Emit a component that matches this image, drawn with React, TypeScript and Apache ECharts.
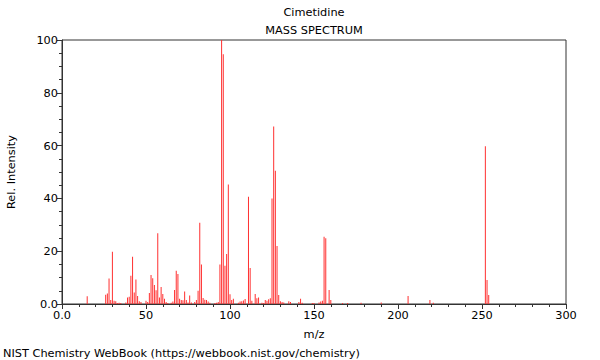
import React, { useEffect, useRef } from "react";
import * as echarts from "echarts";

const chartTitle = "Cimetidine";
const chartSubtitle = "MASS SPECTRUM";
const xAxisName = "m/z";
const yAxisName = "Rel. Intensity";
const footer = "NIST Chemistry WebBook (https://webbook.nist.gov/chemistry)";

const mzValues = [
  15, 26, 27, 28, 29, 30, 31, 32, 33, 34, 35, 38, 39, 40, 41, 42, 43, 44, 45, 46, 47,
  50, 51, 52, 53, 54, 55, 56, 57, 58, 59, 60, 61, 62, 63, 65, 66, 67, 68, 69, 70, 71,
  72, 73, 74, 75, 76, 77, 79, 80, 81, 82, 83, 84, 85, 86, 87, 88, 91, 92, 93, 94, 95,
  96, 97, 98, 99, 100, 101, 102, 105, 106, 107, 108, 109, 111, 112, 113, 115, 116, 117,
  119, 120, 121, 122, 123, 124, 125, 126, 127, 128, 129, 130, 131, 132, 135, 136, 141,
  142, 143, 149, 150, 153, 154, 155, 156, 157, 159, 160, 167, 170, 178, 190, 206, 219,
  221, 252, 253, 254,
];

const relIntensity = [
  2.9, 3.5, 4.0, 9.7, 1.5, 19.8, 1.2, 1.0, 0.4, 0.5, 0.4, 0.6, 2.5, 2.7, 10.7, 17.9, 4.4, 9.3, 3.0, 1.0, 0.8,
  1.2, 0.8, 4.2, 11.0, 9.8, 7.2, 5.2, 26.8, 2.5, 6.4, 3.8, 2.0, 0.8, 0.4, 0.5, 0.9, 5.3, 12.6, 11.4, 2.0, 1.5,
  1.4, 4.7, 1.5, 0.6, 3.2, 0.6, 0.8, 1.5, 5.0, 30.8, 15.0, 2.3, 1.6, 1.5, 0.9, 0.5, 0.4, 0.5, 0.8, 15.0, 100,
  94.6, 14.5, 18.9, 45.3, 3.7, 1.5, 2.0, 0.5, 0.9, 1.0, 1.3, 1.9, 40.6, 13.6, 1.2, 3.8, 2.2, 2.5,
  0.5, 0.4, 1.5, 1.2, 1.8, 2.2, 40.0, 67.2, 50.5, 22.0, 3.4, 1.0, 0.8, 0.6, 1.0, 0.8, 0.8,
  2.0, 0.5, 0.4, 0.4, 0.6, 0.9, 1.2, 25.5, 24.9, 5.3, 1.5, 0.4, 0.4, 0.5, 0.6, 3.0, 1.5,
  0.5, 59.8, 9.1, 3.4,
];

const xTicks = [0, 50, 100, 150, 200, 250, 300];
const yTicks = [0, 20, 40, 60, 80, 100];

const fmt = (v: number) => (v === 0 ? "0.0" : String(v));

export default function App() {
  const ref = useRef<HTMLDivElement>(null);
  useEffect(() => {
    if (!ref.current) return;
    const chart = echarts.init(ref.current, undefined, { renderer: "svg" });
    const data = mzValues.map((m, i) => [m, relIntensity[i]]);
    const font = "DejaVu Sans";
    const fs = 11.33;
    chart.setOption({
      animation: false,
      textStyle: { fontFamily: font },
      grid: {
        left: 62,
        right: 34,
        top: 40,
        bottom: 56,
        containLabel: false,
        outerBoundsMode: "none",
        show: true,
        borderColor: "#333",
        borderWidth: 1,
        backgroundColor: "transparent",
      },
      graphic: [
        {
          type: "text",
          x: 314,
          y: 6,
          style: { text: chartTitle, font: `${fs}px "${font}"`, fill: "#000", textAlign: "center" },
        },
        {
          type: "text",
          x: 314,
          y: 24,
          style: { text: chartSubtitle, font: `${fs}px "${font}"`, fill: "#000", textAlign: "center" },
        },
        {
          type: "text",
          x: 3,
          y: 347,
          style: { text: footer, font: `${fs}px "${font}"`, fill: "#000", textAlign: "left" },
        },
      ],
      xAxis: {
        type: "value",
        min: xTicks[0],
        max: xTicks[xTicks.length - 1],
        interval: 50,
        name: xAxisName,
        nameLocation: "middle",
        nameGap: 24,
        nameTextStyle: { fontFamily: font, fontSize: fs, color: "#000" },
        axisLine: { show: true, onZero: false, lineStyle: { color: "#333" } },
        axisTick: { show: true, length: 5, lineStyle: { color: "#333" } },
        minorTick: { show: true, splitNumber: 5, length: 3, lineStyle: { color: "#333" } },
        splitLine: { show: false },
        axisLabel: { formatter: fmt, fontFamily: font, fontSize: fs, color: "#000", margin: 5 },
      },
      yAxis: {
        type: "value",
        min: yTicks[0],
        max: yTicks[yTicks.length - 1],
        interval: 20,
        name: yAxisName,
        nameLocation: "middle",
        nameGap: 46,
        nameRotate: 90,
        nameTextStyle: { fontFamily: font, fontSize: fs, color: "#000" },
        axisLine: { show: true, lineStyle: { color: "#333" } },
        axisTick: { show: true, length: 5, lineStyle: { color: "#333" } },
        minorTick: { show: true, splitNumber: 4, length: 3, lineStyle: { color: "#333" } },
        splitLine: { show: false },
        axisLabel: { formatter: fmt, fontFamily: font, fontSize: fs, color: "#000", margin: 4 },
      },
      series: [
        {
          type: "custom",
          data,
          clip: true,
          renderItem: (params: any, api: any) => {
            const m = api.value(0);
            const v = api.value(1);
            const base = api.coord([m, 0]);
            const top = api.coord([m, v]);
            return {
              type: "rect",
              shape: { x: base[0] - 0.5, y: top[1], width: 1, height: base[1] - top[1] },
              style: { fill: "#ff3030" },
            };
          },
        },
      ],
    });
    return () => chart.dispose();
  }, []);
  return <div ref={ref} style={{ width: 600, height: 360, position: "absolute", left: 0, top: 0 }} />;
}
